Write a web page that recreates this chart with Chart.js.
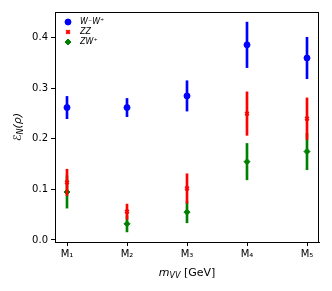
<!DOCTYPE html>
<html>
<head>
<meta charset="utf-8">
<script src="https://cdn.jsdelivr.net/npm/chart.js@4"></script>
<style>
  html, body { margin: 0; padding: 0; background: #fff; }
  #wrap { width: 332px; height: 291px; }
</style>
</head>
<body>
<div id="wrap"><canvas id="chart" width="332" height="291"></canvas></div>
<script>
// mass bins on the x axis
const bins = ["M\u2081", "M\u2082", "M\u2083", "M\u2084", "M\u2085"];

// central values and symmetric errors
const wwValues = [0.262, 0.262, 0.285, 0.386, 0.360];
const wwErrors = [0.022, 0.018, 0.030, 0.045, 0.041];
const zzValues = [0.114, 0.056, 0.102, 0.250, 0.240];
const zzErrors = [0.026, 0.015, 0.029, 0.043, 0.041];
const zwValues = [0.095, 0.032, 0.055, 0.155, 0.175];
const zwErrors = [0.032, 0.016, 0.021, 0.036, 0.036];

const yTicks = [0.0, 0.1, 0.2, 0.3, 0.4];

const FONT = "'DejaVu Sans', sans-serif";

function points(vals) {
  return vals.map((v, i) => ({ x: i, y: v }));
}
function errBars(vals, errs) {
  return vals.map((v, i) => ({ x: i, y: [v - errs[i], v + errs[i]] }));
}
function errDataset(vals, errs, color) {
  return {
    type: 'bar',
    label: '',
    data: errBars(vals, errs),
    backgroundColor: color,
    borderWidth: 0,
    barThickness: 2,
    grouped: false
  };
}
function markerDataset(label, vals, color, style, r) {
  return {
    type: 'scatter',
    label: label,
    data: points(vals),
    pointStyle: style,
    pointRadius: r,
    pointBackgroundColor: color,
    pointBorderColor: color,
    pointBorderWidth: style === 'crossRot' ? 2 : 1,
    backgroundColor: color,
    borderColor: color,
    showLine: false
  };
}

// legend inside the axes, top-left, like matplotlib
const legendPlugin = {
  id: 'innerLegend',
  afterDraw(chart) {
    const c = chart.ctx;
    const a = chart.chartArea;
    let row = 0;
    c.save();
    chart.data.datasets.forEach(ds => {
      if (ds.type !== 'scatter') return;
      const y = a.top + 10 + row * 10;
      c.fillStyle = ds.pointBackgroundColor;
      c.strokeStyle = ds.pointBorderColor;
      c.lineWidth = ds.pointBorderWidth;
      Chart.helpers.drawPoint(c, { pointStyle: ds.pointStyle, radius: ds.pointRadius, borderWidth: ds.pointBorderWidth }, a.left + 13, y);
      c.fillStyle = '#000';
      c.font = 'italic 8px ' + FONT;
      c.textBaseline = 'middle';
      c.fillText(ds.label, a.left + 25, y);
      row++;
    });
    c.restore();
  }
};

// draws the box frame and the axis titles (with subscripts)
const framePlugin = {
  id: 'frame',
  afterDraw(chart) {
    const c = chart.ctx;
    const a = chart.chartArea;
    c.save();
    c.strokeStyle = '#000';
    c.lineWidth = 1;
    c.strokeRect(a.left + 0.5, a.top + 0.5, a.right - a.left - 1, a.bottom - a.top);

    // x title: m_VV [GeV]
    c.fillStyle = '#000';
    c.textBaseline = 'alphabetic';
    const xt = [
      { t: 'm', f: 'italic 11px ' + FONT, dy: 0 },
      { t: 'VV', f: 'italic 8px ' + FONT, dy: 2 },
      { t: ' [GeV]', f: '11px ' + FONT, dy: 0 }
    ];
    let w = 0;
    xt.forEach(p => { c.font = p.f; w += c.measureText(p.t).width; });
    let x = (a.left + a.right) / 2 - w / 2;
    const y = 276;
    xt.forEach(p => { c.font = p.f; c.fillText(p.t, x, y + p.dy); x += c.measureText(p.t).width; });

    // y title: E_N(rho), rotated
    c.translate(21, (a.top + a.bottom) / 2);
    c.rotate(-Math.PI / 2);
    const yt = [
      { t: '\u2130', f: 'italic 11px ' + FONT, dy: 0 },
      { t: 'N', f: 'italic 8px ' + FONT, dy: 2 },
      { t: '(\u03C1)', f: 'italic 11px ' + FONT, dy: 0 }
    ];
    w = 0;
    yt.forEach(p => { c.font = p.f; w += c.measureText(p.t).width; });
    x = -w / 2;
    yt.forEach(p => { c.font = p.f; c.fillText(p.t, x, p.dy); x += c.measureText(p.t).width; });
    c.restore();
  }
};

new Chart(document.getElementById('chart'), {
  data: {
    datasets: [
      errDataset(wwValues, wwErrors, '#0000ff'),
      markerDataset('W\u207BW\u207A', wwValues, '#0000ff', 'circle', 3),
      errDataset(zzValues, zzErrors, '#ff0000'),
      markerDataset('ZZ', zzValues, '#ff0000', 'crossRot', 2.5),
      errDataset(zwValues, zwErrors, '#008000'),
      markerDataset('ZW\u207A', zwValues, '#008000', 'rectRot', 3)
    ]
  },
  options: {
    responsive: false,
    animation: false,
    devicePixelRatio: 1,
    layout: { padding: { top: 12, right: 13, left: 0, bottom: 0 } },
    plugins: {
      tooltip: { enabled: false },
      legend: { display: false }
    },
    scales: {
      x: {
        type: 'linear',
        min: -0.2,
        max: 4.2,
        offset: false,
        afterFit: s => { s.height = 49; },
        afterBuildTicks: s => { s.ticks = bins.map((b, i) => ({ value: i })); },
        ticks: {
          color: '#000',
          font: { family: FONT, size: 10 },
          padding: 2,
          maxRotation: 0,
          callback: v => bins[v]
        },
        grid: { offset: false, drawOnChartArea: false, drawTicks: true, tickLength: 4, color: '#000' },
        border: { display: true, color: '#000' }
      },
      y: {
        type: 'linear',
        min: -0.004,
        max: 0.451,
        afterFit: s => { s.width = 55; },
        afterBuildTicks: s => { s.ticks = yTicks.map(v => ({ value: v })); },
        ticks: {
          color: '#000',
          font: { family: FONT, size: 10 },
          padding: 3,
          callback: v => v.toFixed(1)
        },
        grid: { drawOnChartArea: false, drawTicks: true, tickLength: 4, color: '#000' },
        border: { display: true, color: '#000' }
      }
    }
  },
  plugins: [framePlugin, legendPlugin]
});
</script>
</body>
</html>
